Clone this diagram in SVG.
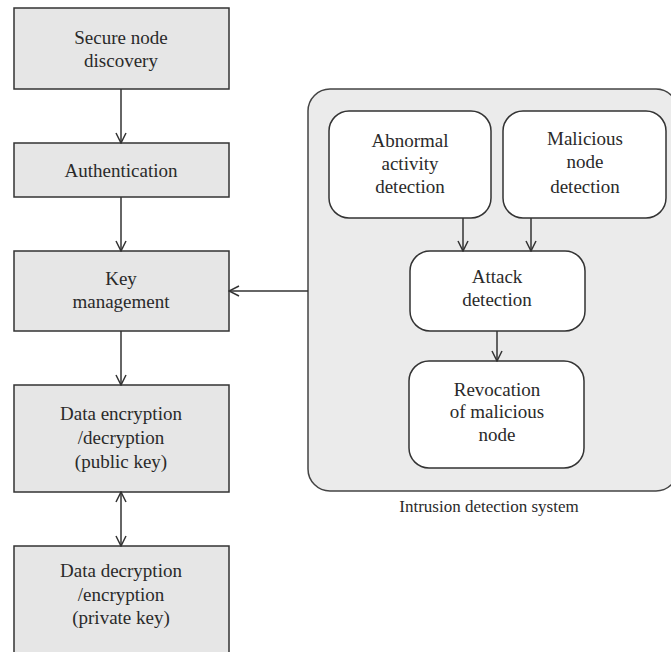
<svg xmlns="http://www.w3.org/2000/svg" width="671" height="652" viewBox="0 0 671 652">
<style>
.box{fill:#e6e6e6;stroke:#333;stroke-width:1.5}
.rbox{fill:#fff;stroke:#333;stroke-width:1.5}
.cont{fill:#ebebeb;stroke:#444;stroke-width:1.5}
text{font-family:"Liberation Serif","DejaVu Serif",serif;font-size:19px;fill:#2a2a2a;text-anchor:middle}
.lbl{font-size:17px}
.edge{stroke:#333;stroke-width:1.5;fill:none}
</style>
<defs>
<marker id="arr" viewBox="0 0 12 12" refX="11" refY="6" markerWidth="12" markerHeight="12" markerUnits="userSpaceOnUse" orient="auto-start-reverse">
<path d="M1,1 L11,6 L1,11" fill="none" stroke="#333" stroke-width="1.5"/>
</marker>
</defs>
<rect width="671" height="652" fill="#fff"/>
<g id="ids">
<rect class="cont" x="308" y="89" width="370" height="402" rx="22"/>
<text class="lbl" x="489" y="512">Intrusion detection system</text>
</g>
<g id="n1"><rect class="box" x="14" y="8" width="215" height="81"/><text x="121" y="44">Secure node</text><text x="121" y="67">discovery</text></g>
<g id="n2"><rect class="box" x="14" y="143" width="215" height="54"/><text x="121" y="177">Authentication</text></g>
<g id="n3"><rect class="box" x="14" y="251" width="215" height="80"/><text x="121" y="285">Key</text><text x="121" y="308">management</text></g>
<g id="n4"><rect class="box" x="14" y="385" width="215" height="107"/><text x="121" y="420">Data encryption</text><text x="121" y="444">/decryption</text><text x="121" y="468">(public key)</text></g>
<g id="n5"><rect class="box" x="14" y="546" width="215" height="120"/><text x="121" y="577">Data decryption</text><text x="121" y="601">/encryption</text><text x="121" y="624">(private key)</text></g>
<g id="n6"><rect class="rbox" x="329" y="111" width="162" height="107" rx="20"/><text x="410" y="147">Abnormal</text><text x="410" y="170">activity</text><text x="410" y="193">detection</text></g>
<g id="n7"><rect class="rbox" x="503" y="111" width="163" height="107" rx="20"/><text x="585" y="145">Malicious</text><text x="585" y="168">node</text><text x="585" y="193">detection</text></g>
<g id="n8"><rect class="rbox" x="410" y="251" width="175" height="80" rx="20"/><text x="497" y="283">Attack</text><text x="497" y="306">detection</text></g>
<g id="n9"><rect class="rbox" x="409" y="361" width="175" height="107" rx="20"/><text x="497" y="396">Revocation</text><text x="497" y="418">of malicious</text><text x="497" y="441">node</text></g>
<g id="edges">
<line class="edge" x1="121" y1="89" x2="121" y2="143" marker-end="url(#arr)"/>
<line class="edge" x1="121" y1="197" x2="121" y2="251" marker-end="url(#arr)"/>
<line class="edge" x1="121" y1="331" x2="121" y2="385" marker-end="url(#arr)"/>
<line class="edge" x1="121" y1="492" x2="121" y2="546" marker-start="url(#arr)" marker-end="url(#arr)"/>
<line class="edge" x1="308" y1="291" x2="229" y2="291" marker-end="url(#arr)"/>
<line class="edge" x1="463" y1="218" x2="463" y2="251" marker-end="url(#arr)"/>
<line class="edge" x1="531" y1="218" x2="531" y2="251" marker-end="url(#arr)"/>
<line class="edge" x1="497" y1="331" x2="497" y2="361" marker-end="url(#arr)"/>
</g>
</svg>
